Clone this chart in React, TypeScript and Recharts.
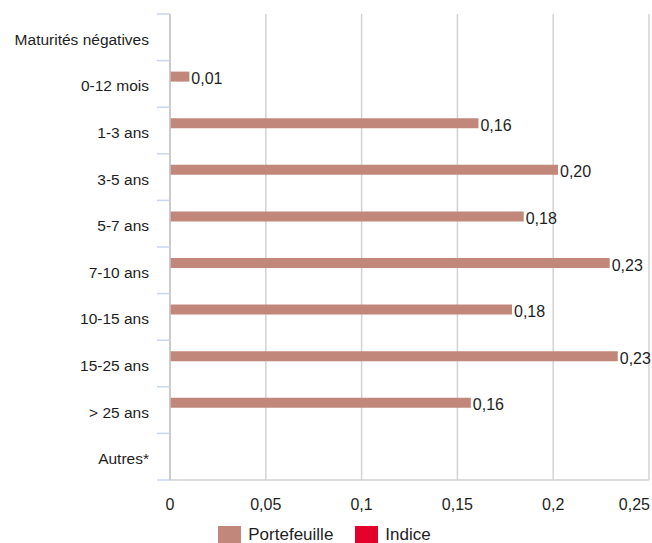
import { BarChart, Bar, XAxis, YAxis, CartesianGrid, Legend, LabelList } from "recharts";

const categories = [
  "Maturités négatives",
  "0-12 mois",
  "1-3 ans",
  "3-5 ans",
  "5-7 ans",
  "7-10 ans",
  "10-15 ans",
  "15-25 ans",
  "> 25 ans",
  "Autres*",
];
const portefeuille = [null, 0.0101, 0.161, 0.2025, 0.1846, 0.2295, 0.1785, 0.2337, 0.157, null];
const indice = [null, null, null, null, null, null, null, null, null, null];
const xTicks = [0, 0.05, 0.1, 0.15, 0.2, 0.25];

const series = [
  { key: "portefeuille", name: "Portefeuille", color: "#c0877a" },
  { key: "indice", name: "Indice", color: "#e4002b" },
];

const data = categories.map((name, i) => ({
  name,
  portefeuille: portefeuille[i],
  indice: indice[i],
}));

const FONT = '"Liberation Sans", Arial, Helvetica, sans-serif';
const TEXT = "#1e1e1e";
const TOP = 14;
const PLOT_BOTTOM = 480;
const HALF_BAND = (PLOT_BOTTOM - TOP) / categories.length / 2;

const fr = (v: number) => String(v).replace(".", ",");

function CategoryTick(props: any) {
  const { x, y, payload, index } = props;
  const last = index === categories.length - 1;
  return (
    <g>
      <line x1={x - 13} x2={x} y1={y - HALF_BAND} y2={y - HALF_BAND} stroke="#c9d6ee" strokeWidth={1.5} />
      {last && <line x1={x - 13} x2={x} y1={y + HALF_BAND} y2={y + HALF_BAND} stroke="#c9d6ee" strokeWidth={1.5} />}
      <text x={x - 21} y={y} dy={7.5} textAnchor="end" fill={TEXT} fontSize={15.5} fontFamily={FONT}>
        {payload.value}
      </text>
    </g>
  );
}

function ValueTick(props: any) {
  const { x, y, payload } = props;
  const last = payload.value === xTicks[xTicks.length - 1];
  return (
    <text x={last ? x + 1 : x} y={y} dy={22} textAnchor={last ? "end" : "middle"} fill={TEXT} fontSize={16} fontFamily={FONT}>
      {fr(payload.value)}
    </text>
  );
}

function LegendContent() {
  return (
    <div style={{ display: "flex", justifyContent: "center", gap: 22, paddingTop: 6, fontFamily: FONT, fontSize: 17, color: TEXT }}>
      {series.map((s) => (
        <div key={s.key} style={{ display: "flex", alignItems: "center", gap: 7 }}>
          <span style={{ display: "inline-block", width: 23, height: 18, background: s.color }} />
          <span style={{ lineHeight: "18px" }}>{s.name}</span>
        </div>
      ))}
    </div>
  );
}

export default function App() {
  return (
    <div style={{ position: "absolute", left: 0, top: 0, width: 652, height: 543, overflow: "hidden", background: "#fff" }}>
      <BarChart
        width={652}
        height={543}
        data={data}
        layout="vertical"
        margin={{ top: TOP, right: 3, bottom: 0, left: 0 }}
        barSize={10}
        barGap={4}
      >
        <CartesianGrid horizontal={false} stroke="#d2d2d2" strokeWidth={1.5} />
        <XAxis
          type="number"
          domain={[0, 0.25]}
          ticks={xTicks}
          height={40}
          axisLine={{ stroke: "#cfcfcf", strokeWidth: 1.5 }}
          tickLine={false}
          tick={<ValueTick />}
          interval={0}
        />
        <YAxis
          type="category"
          dataKey="name"
          width={170}
          axisLine={{ stroke: "#c4c4c4", strokeWidth: 1.5 }}
          tickLine={false}
          tickSize={0}
          tickMargin={0}
          tick={<CategoryTick />}
          interval={0}
        />
        <Legend verticalAlign="bottom" height={23} content={<LegendContent />} />
        {series.map((s) => (
          <Bar key={s.key} dataKey={s.key} name={s.name} fill={s.color} isAnimationActive={false}>
            {s.key === "portefeuille" && (
              <LabelList
                dataKey={s.key}
                position="right"
                offset={2}
                fill={TEXT}
                fontSize={16}
                fontFamily={FONT}
                dy={2}
                formatter={(v: any) => (v == null ? "" : Number(v).toFixed(2).replace(".", ","))}
              />
            )}
          </Bar>
        ))}
      </BarChart>
    </div>
  );
}
